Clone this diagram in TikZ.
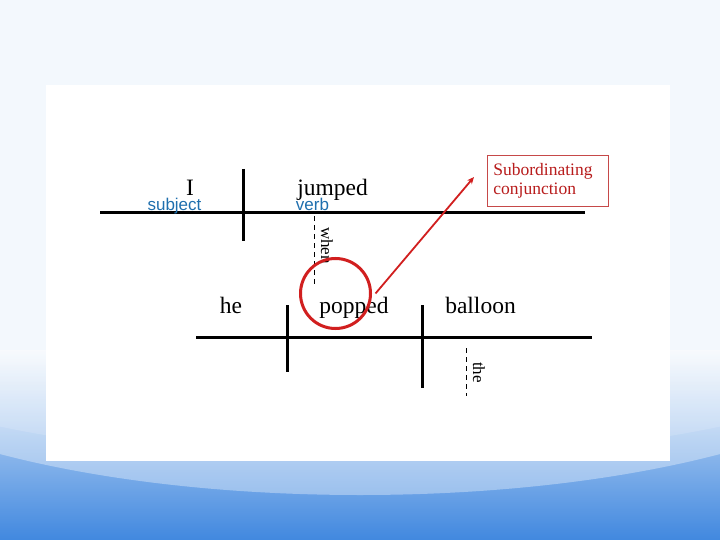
\documentclass[tikz,border=0pt]{standalone}
\usepackage{fontspec}
\setmainfont{Liberation Serif}
\setsansfont{Liberation Sans}
\usetikzlibrary{arrows.meta}
\definecolor{pale}{HTML}{F3F8FD}
\definecolor{slideblue}{HTML}{4188DF}
\definecolor{tagblue}{HTML}{1F6FAE}
\definecolor{notered}{HTML}{B81C1C}
\definecolor{ringred}{HTML}{D11F1F}

\begin{document}
\begin{tikzpicture}[x=1pt, y=-1pt,
    word/.style={anchor=base, inner sep=0, font=\fontsize{23.5}{28}\selectfont},
    tag/.style={anchor=base, inner sep=0, text=tagblue, font=\sffamily\fontsize{17}{20}\selectfont},
    side/.style={anchor=base west, rotate=-90, inner sep=0, font=\fontsize{17}{20}\selectfont},
    bar/.style={line width=3pt},
    guide/.style={line width=0.8pt, dash pattern=on 5pt off 4pt}]
    % slide background
    \fill [pale] (0,0) rectangle (720,540);
    \shade [top color=pale, bottom color=slideblue, middle color=slideblue!55!pale] (0,350) rectangle (720,540);
    \begin{scope}
        \clip (0,350) rectangle (720,540);
        \fill [white, opacity=0.35] (360,320) ellipse (560pt and 175pt);
        \fill [white, opacity=0.15] (360,280) ellipse (620pt and 180pt);
    \end{scope}
    \useasboundingbox (0,0) rectangle (720,540);
    \fill [white] (46,85) rectangle (670,461);

    % main clause
    \draw [bar] (100,213) -- (585,213);
    \draw [bar] (243,169) -- (243,241);
    \draw [guide] (314,216) -- (314,285);
    \node (I) [word] at (190,196) {I};
    \node (jumped) [word] at (332.5,196) {jumped};
    \node (subject) [tag] at (174.5,211) {subject};
    \node (verb) [tag] at (312.5,211) {verb};
    \node (when) [side] at (321,227) {when};

    % dependent clause
    \draw [bar] (196,337) -- (592,337);
    \draw [bar] (287,305) -- (287,372);
    \draw [bar] (422,305) -- (422,388);
    \draw [guide] (466,348) -- (466,396);
    \node (he) [word] at (231,313) {he};
    \node (popped) [word] at (354,313) {popped};
    \node (balloon) [word] at (480.5,313) {balloon};
    \node (the) [side] at (473,362) {the};

    % label for the conjunction
    \node (ring) [circle, draw=ringred, line width=3pt, minimum size=70pt, inner sep=0, outer sep=0] at (335.5,293.5) {};
    \node (note) [draw=notered!80, line width=0.8pt, anchor=north west, text=notered, align=left,
        text width=109pt, minimum height=51pt, inner xsep=6pt, font=\fontsize{17.5}{19.5}\selectfont]
        at (487,155) {Subordinating\\conjunction};
    \coordinate (tip) at (474,177);
    \draw [ringred, line width=1.8pt, -{Stealth[length=7pt, width=6pt]}] ([xshift=5pt]ring.east) -- (tip);
\end{tikzpicture}
\end{document}
